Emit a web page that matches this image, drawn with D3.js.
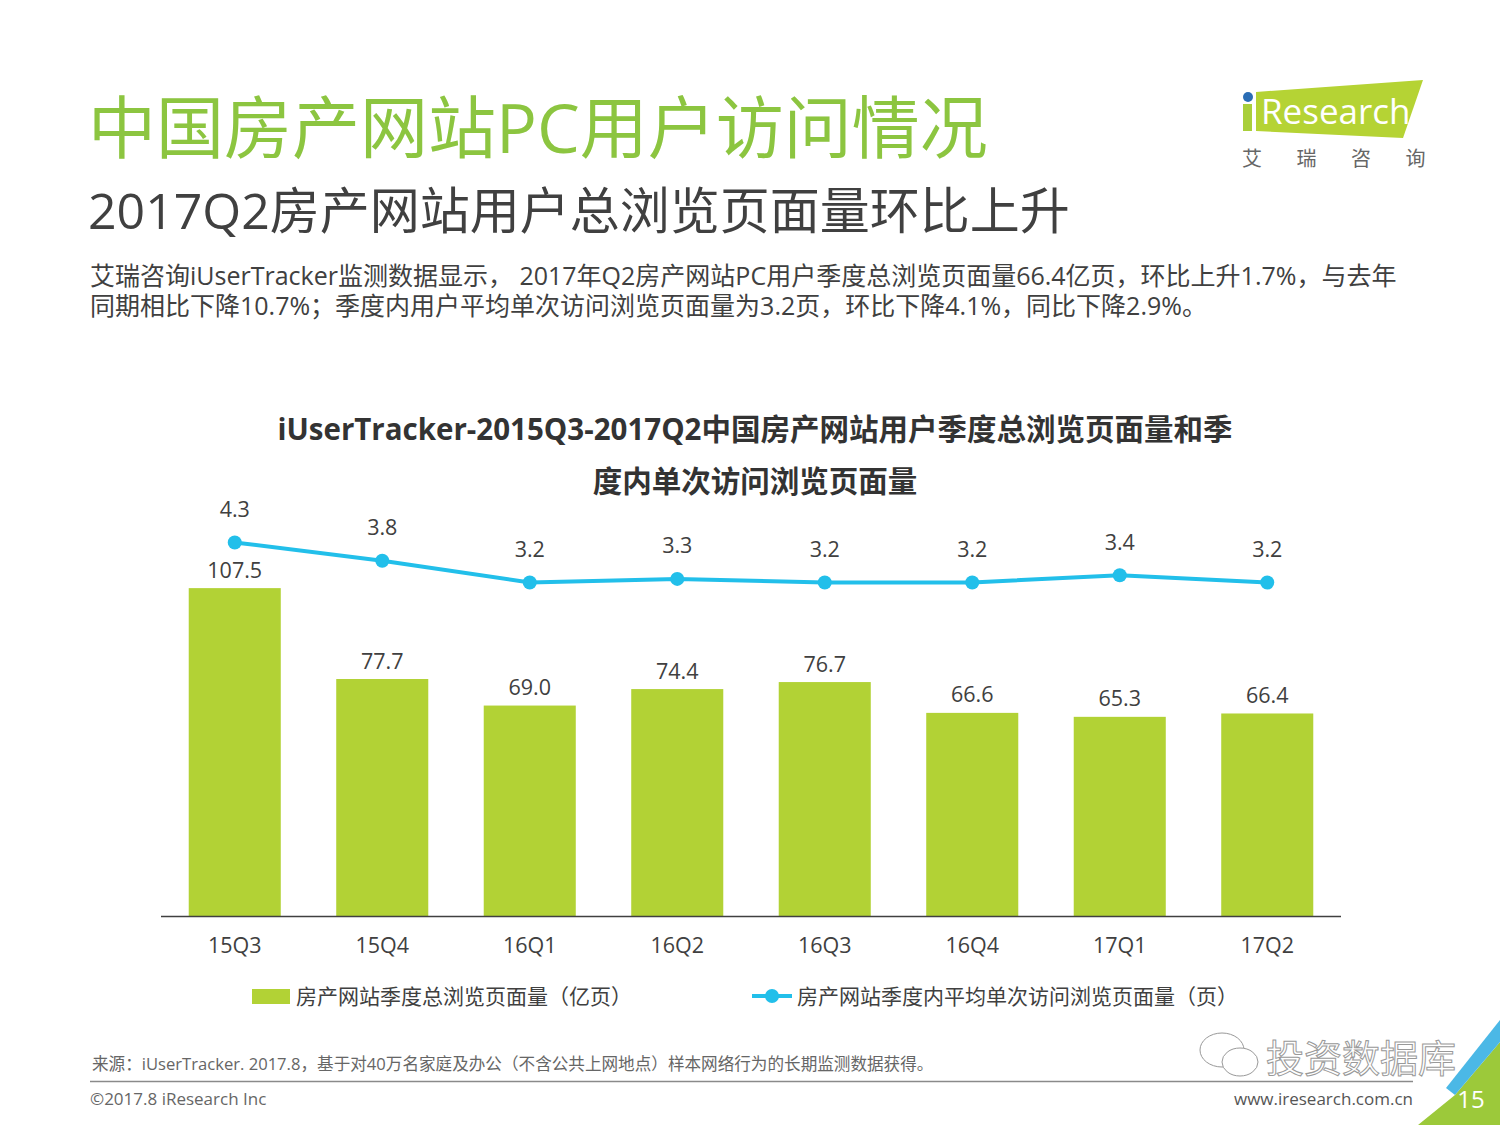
<!DOCTYPE html>
<html>
<head>
<meta charset="utf-8">
<script src="https://cdn.jsdelivr.net/npm/d3@7"></script>
<style>
    body { margin: 0; background: #fff; }
    svg { display: block; font-family: "Open Sans", "Noto Sans CJK SC", sans-serif; }
</style>
</head>
<body>
<svg id="chart" width="1500" height="1125"></svg>
<script>
const categories = ["15Q3", "15Q4", "16Q1", "16Q2", "16Q3", "16Q4", "17Q1", "17Q2"];
const pageViews = [107.5, 77.7, 69.0, 74.4, 76.7, 66.6, 65.3, 66.4];
const viewsPerVisit = [4.3, 3.8, 3.2, 3.3, 3.2, 3.2, 3.4, 3.2];

const seriesNames = ["房产网站季度总浏览页面量（亿页）", "房产网站季度内平均单次访问浏览页面量（页）"];

const BAR_COLOR = "#b2d235";
const LINE_COLOR = "#22bfea";
const TEXT_COLOR = "#404040";
const TITLE_GREEN = "#8cc540";

const svg = d3.select("#chart");
const fmt = d3.format(".1f");

// scales
const x = d3.scaleBand().domain(categories).range([161, 1341]).paddingInner(0.376).paddingOuter(0.188);
const yBar = d3.scaleLinear().domain([0, 120]).range([916, 550]);
const yLine = d3.scaleLinear().domain([0, 5]).range([699, 517]);

function drawHeader() {
    svg.append("text").attr("x", 88).attr("y", 126).attr("dominant-baseline", "central")
        .style("font-size", "68px").style("fill", TITLE_GREEN).text("中国房产网站PC用户访问情况");

    svg.append("text").attr("x", 88).attr("y", 210).attr("dominant-baseline", "central")
        .style("font-size", "50px").style("fill", TEXT_COLOR).text("2017Q2房产网站用户总浏览页面量环比上升");

    let lines = ["艾瑞咨询iUserTracker监测数据显示， 2017年Q2房产网站PC用户季度总浏览页面量66.4亿页，环比上升1.7%，与去年",
        "同期相比下降10.7%；季度内用户平均单次访问浏览页面量为3.2页，环比下降4.1%，同比下降2.9%。"];
    svg.append("text").style("font-size", "25px").style("fill", TEXT_COLOR)
        .selectAll("tspan").data(lines).join("tspan")
        .attr("x", 90).attr("y", (d, i) => 275 + i * 30).attr("dominant-baseline", "central").text(d => d);
}

function drawLogo() {
    let g = svg.append("g");
    g.append("rect").attr("x", 1243).attr("y", 104).attr("width", 9).attr("height", 27).style("fill", "#a9cf3a");
    g.append("circle").attr("cx", 1248).attr("cy", 97).attr("r", 5).style("fill", "#2a6db5");
    g.append("polygon").attr("points", "1256,92 1423,80 1403,138 1256,131").style("fill", "#b5d334");
    g.append("text").attr("x", 1261).attr("y", 124).style("font-size", "35px").style("fill", "#fff").text("Research");
    ["艾", "瑞", "咨", "询"].forEach((c, i) => {
        g.append("text").attr("x", 1252 + i * 54.5).attr("y", 158).attr("text-anchor", "middle")
            .attr("dominant-baseline", "central").style("font-size", "20px").style("fill", "#666").text(c);
    });
}

function drawChartTitle() {
    let t = ["iUserTracker-2015Q3-2017Q2中国房产网站用户季度总浏览页面量和季", "度内单次访问浏览页面量"];
    svg.append("text").style("font-size", "29.5px").style("font-weight", "bold").style("fill", "#333")
        .selectAll("tspan").data(t).join("tspan")
        .attr("x", 755).attr("y", (d, i) => 428 + i * 52).attr("text-anchor", "middle").attr("dominant-baseline", "central")
        .text(d => d);
}

function drawBars() {
    let g = svg.append("g");
    g.selectAll("rect").data(pageViews).join("rect")
        .attr("x", (d, i) => x(categories[i])).attr("y", d => yBar(d))
        .attr("width", x.bandwidth()).attr("height", d => yBar(0) - yBar(d))
        .style("fill", BAR_COLOR);

    g.selectAll("text").data(pageViews).join("text")
        .attr("x", (d, i) => x(categories[i]) + x.bandwidth() / 2).attr("y", d => yBar(d) - 19)
        .attr("text-anchor", "middle").attr("dominant-baseline", "central")
        .style("font-size", "21.5px").style("fill", TEXT_COLOR).text(d => fmt(d));
}

function drawAxis() {
    let axis = svg.append("g").attr("transform", `translate(0,${yBar(0)})`)
        .call(d3.axisBottom(x).tickSize(0).tickPadding(22));
    axis.select(".domain").attr("d", "M161,0.5H1341").style("stroke", TEXT_COLOR).style("stroke-width", 1.5);
    axis.selectAll("text").style("font-size", "21.5px").style("fill", TEXT_COLOR)
        .style("font-family", "'Open Sans', sans-serif");
}

function drawLine() {
    let g = svg.append("g");
    let cx = (d, i) => x(categories[i]) + x.bandwidth() / 2;
    let line = d3.line().x(cx).y(d => yLine(d));
    g.append("path").datum(viewsPerVisit).attr("d", line)
        .style("fill", "none").style("stroke", LINE_COLOR).style("stroke-width", 4);
    g.selectAll("circle").data(viewsPerVisit).join("circle")
        .attr("cx", cx).attr("cy", d => yLine(d)).attr("r", 7).style("fill", LINE_COLOR);
    g.selectAll("text").data(viewsPerVisit).join("text")
        .attr("x", cx).attr("y", d => yLine(d) - 34)
        .attr("text-anchor", "middle").attr("dominant-baseline", "central")
        .style("font-size", "21.5px").style("fill", TEXT_COLOR).text(d => fmt(d));
}

function drawLegend() {
    let g = svg.append("g");
    g.append("rect").attr("x", 252).attr("y", 989).attr("width", 38).attr("height", 15).style("fill", BAR_COLOR);
    g.append("text").attr("x", 296).attr("y", 996).attr("dominant-baseline", "central")
        .style("font-size", "21px").style("fill", TEXT_COLOR).text(seriesNames[0]);

    g.append("line").attr("x1", 752).attr("x2", 792).attr("y1", 996).attr("y2", 996)
        .style("stroke", LINE_COLOR).style("stroke-width", 4);
    g.append("circle").attr("cx", 772).attr("cy", 996).attr("r", 7).style("fill", LINE_COLOR);
    g.append("text").attr("x", 797).attr("y", 996).attr("dominant-baseline", "central")
        .style("font-size", "21px").style("fill", TEXT_COLOR).text(seriesNames[1]);
}

function drawFooter() {
    svg.append("text").attr("x", 92).attr("y", 1063).attr("dominant-baseline", "central")
        .style("font-size", "16.6px").style("fill", "#666")
        .text("来源：iUserTracker. 2017.8，基于对40万名家庭及办公（不含公共上网地点）样本网络行为的长期监测数据获得。");
    svg.append("line").attr("x1", 90).attr("x2", 1413).attr("y1", 1081.5).attr("y2", 1081.5)
        .style("stroke", "#8a8a8a").style("stroke-width", 1.5);
    svg.append("text").attr("x", 90).attr("y", 1098).attr("dominant-baseline", "central")
        .style("font-size", "17px").style("fill", "#666").text("©2017.8 iResearch Inc");
    svg.append("text").attr("x", 1413).attr("y", 1098).attr("dominant-baseline", "central").attr("text-anchor", "end")
        .style("font-size", "17px").style("fill", "#555").text("www.iresearch.com.cn");

    // corner decoration
    svg.append("polygon").attr("points", "1455,1095 1500,1042 1500,1125 1418,1125").style("fill", "#9cc93a");
    svg.append("polygon").attr("points", "1446,1088 1500,1020 1500,1042 1455,1095").style("fill", "#4bb8e6");
    svg.append("text").attr("x", 1471).attr("y", 1098).attr("text-anchor", "middle").attr("dominant-baseline", "central")
        .style("font-size", "24px").style("fill", "#fff").text("15");

    // watermark
    let w = svg.append("g").style("fill", "#fff").style("stroke", "#999").style("stroke-width", 1);
    w.append("ellipse").attr("cx", 1222).attr("cy", 1050).attr("rx", 22).attr("ry", 17);
    w.append("ellipse").attr("cx", 1240).attr("cy", 1062).attr("rx", 18).attr("ry", 14);
    w.append("text").attr("x", 1266).attr("y", 1057).attr("dominant-baseline", "central")
        .style("font-size", "38px").text("投资数据库");
}

drawHeader();
drawLogo();
drawChartTitle();
drawBars();
drawAxis();
drawLine();
drawLegend();
drawFooter();
</script>
</body>
</html>
